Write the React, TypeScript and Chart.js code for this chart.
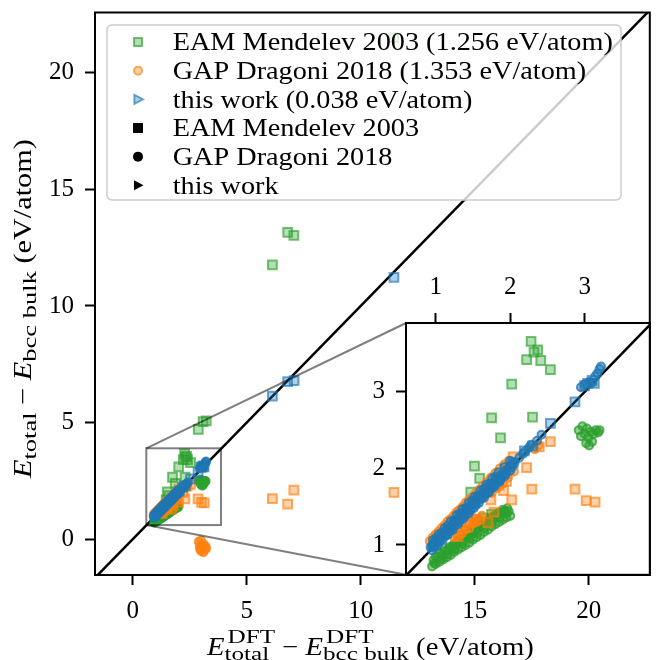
import React, { useEffect, useRef } from "react";
import { Chart, registerables } from "chart.js";

Chart.register(...registerables);

const FONT = "'Liberation Serif', 'Times New Roman', serif";

// ---- axis ranges and ticks ----
const mainXTicks = [0, 5, 10, 15, 20];
const mainYTicks = [0, 5, 10, 15, 20];
const insetXTicks = [1, 2, 3];
const insetYTicks = [1, 2, 3];
const mainXRange = [-1.65, 22.68];
const mainYRange = [-1.53, 22.58];
const insetXRange = [0.6, 3.875];
const insetYRange = [0.61, 3.9];
const diagonal = [[-5, -5], [30, 30]];

// ---- legend ----
const legendLabels = [
  "EAM Mendelev 2003 (1.256 eV/atom)",
  "GAP Dragoni 2018 (1.353 eV/atom)",
  "this work (0.038 eV/atom)",
  "EAM Mendelev 2003",
  "GAP Dragoni 2018",
  "this work",
];

// ---- data: [DFT energy, model energy] in eV/atom ----
const eamSquares = [
  [2.28, 3.66], [2.32, 3.52], [2.37, 3.55], [2.22, 3.42], [2.41, 3.41], [2.54, 3.29],
  [2.02, 3.10], [1.75, 2.66], [2.30, 2.67], [1.87, 2.40], [1.52, 2.03], [1.59, 1.87],
  [1.47, 1.69], [1.55, 1.30], [1.65, 1.35], [1.40, 1.20], [1.75, 1.40], [1.30, 1.05],
  [1.20, 0.95], [2.88, 4.71], [3.09, 5.04], [3.23, 5.08], [6.13, 11.76], [6.80, 13.16],
  [7.07, 13.03], [11.45, 21.5],
];
const eamCircles = [
  [0.95, 0.72], [1.00, 0.75], [1.05, 0.78], [1.10, 0.81], [1.15, 0.84], [1.20, 0.87],
  [1.25, 0.91], [1.30, 0.94], [1.35, 0.97], [1.40, 1.00], [1.45, 1.03], [1.50, 1.07],
  [1.55, 1.10], [1.60, 1.13], [1.65, 1.17], [1.70, 1.20], [1.75, 1.24], [1.80, 1.27],
  [1.85, 1.30], [1.90, 1.33], [1.95, 1.36], [2.00, 1.38],
  [0.97, 0.80], [1.03, 0.84], [1.08, 0.87], [1.13, 0.91], [1.18, 0.94], [1.23, 0.98],
  [1.28, 1.01], [1.33, 1.05], [1.38, 1.08], [1.43, 1.12], [1.48, 1.15], [1.53, 1.19],
  [1.58, 1.22], [1.63, 1.26], [1.68, 1.29], [1.73, 1.33], [1.78, 1.36], [1.83, 1.40],
  [1.88, 1.42], [1.93, 1.45], [1.98, 1.44],
  [1.00, 0.85], [1.06, 0.89], [1.12, 0.93], [1.18, 0.97], [1.24, 1.01], [1.30, 1.05],
  [1.36, 1.09], [1.42, 1.13], [1.48, 1.18], [1.54, 1.22], [1.60, 1.26], [1.66, 1.30],
  [1.72, 1.34], [1.78, 1.38], [1.84, 1.42], [1.90, 1.46], [1.96, 1.48],
  [0.98, 0.76], [1.07, 0.82], [1.16, 0.88], [1.26, 0.95], [1.36, 1.02], [1.46, 1.09],
  [1.56, 1.16], [1.66, 1.23], [1.76, 1.30], [1.86, 1.36], [1.94, 1.41],
  [2.92, 2.50], [2.97, 2.55], [3.00, 2.45], [3.03, 2.52], [3.05, 2.40], [3.08, 2.48],
  [3.10, 2.35], [3.12, 2.45], [3.15, 2.50], [3.18, 2.47], [2.95, 2.42], [3.02, 2.33],
  [3.20, 2.50], [3.06, 2.30],
];
const gapSquares = [
  [2.54, 2.35], [2.39, 2.28], [2.04, 2.15], [2.22, 2.01], [2.29, 1.73], [2.87, 1.73],
  [3.02, 1.58], [3.14, 1.56], [2.02, 1.59], [1.91, 1.71], [1.74, 1.59], [1.78, 1.43],
  [1.70, 1.29], [1.52, 1.33], [1.46, 1.30], [1.30, 1.11], [1.85, 1.78], [1.95, 1.83],
  [6.13, 1.74], [6.80, 1.51], [7.07, 2.11], [11.46, 2.01],
];
const gapCircles = [
  [0.92, 1.05], [0.96, 1.10], [1.00, 1.14], [1.04, 1.18], [1.08, 1.22], [1.12, 1.26],
  [1.16, 1.31], [1.20, 1.34], [1.24, 1.38], [1.28, 1.43], [1.32, 1.46], [1.36, 1.50],
  [1.40, 1.55], [1.44, 1.58], [1.48, 1.62], [1.53, 1.67], [1.58, 1.72], [1.63, 1.77],
  [1.68, 1.82], [1.74, 1.88], [1.80, 1.94], [1.86, 2.00], [1.92, 2.05], [1.98, 2.10],
  [1.30, 1.12], [1.35, 1.15], [1.40, 1.20], [1.45, 1.22], [1.50, 1.28], [1.55, 1.30],
  [1.60, 1.33], [1.42, 1.28], [1.52, 1.35], [1.62, 1.38], [1.35, 1.22], [1.25, 1.10],
  [1.75, 1.68], [1.82, 1.74], [1.90, 1.80], [1.97, 1.88], [2.05, 1.96], [2.33, 2.25],
  [2.38, 2.30],
  [2.90, -0.10], [2.95, -0.25], [3.00, -0.05], [3.05, -0.35], [3.10, -0.20], [3.15, -0.45],
  [3.20, -0.30], [3.00, -0.50], [3.10, -0.55], [3.22, -0.40], [2.95, -0.40],
];
const workSquares = [
  [2.54, 2.59], [2.87, 2.87], [3.04, 3.11], [3.13, 3.11], [2.30, 2.29], [2.19, 2.23],
  [2.04, 2.07], [3.00, 3.08], [3.10, 3.15], [6.13, 6.14], [6.80, 6.76], [7.08, 6.80],
  [11.46, 11.23],
];
const workCircles = [
  [0.93, 0.97], [0.95, 0.99], [0.97, 1.02], [0.99, 1.03], [1.01, 1.05], [1.03, 1.08],
  [1.05, 1.09], [1.07, 1.12], [1.09, 1.13], [1.11, 1.15], [1.13, 1.18], [1.15, 1.19],
  [1.17, 1.22], [1.19, 1.23], [1.21, 1.25], [1.23, 1.28], [1.25, 1.29], [1.27, 1.32],
  [1.29, 1.33], [1.31, 1.35], [1.33, 1.38], [1.35, 1.39], [1.37, 1.42], [1.39, 1.43],
  [1.41, 1.45], [1.43, 1.48], [1.45, 1.49], [1.47, 1.52], [1.49, 1.53], [1.51, 1.55],
  [1.53, 1.58], [1.55, 1.59], [1.57, 1.62], [1.59, 1.63], [1.61, 1.65], [1.63, 1.68],
  [1.65, 1.69], [1.67, 1.72], [1.69, 1.73], [1.71, 1.75], [1.73, 1.78], [1.75, 1.79],
  [1.77, 1.81], [1.79, 1.83], [1.81, 1.85], [1.84, 1.88], [1.87, 1.90], [1.90, 1.93],
  [1.93, 1.96], [1.96, 1.99], [1.99, 2.02], [2.02, 2.05],
  [0.97, 0.97], [1.04, 1.03], [1.12, 1.11], [1.19, 1.18], [1.26, 1.25], [1.33, 1.33],
  [1.40, 1.39], [1.47, 1.46], [1.54, 1.54], [1.61, 1.60], [1.68, 1.67], [1.75, 1.74],
  [1.82, 1.81], [1.89, 1.88],
  [1.00, 1.09], [1.08, 1.16], [1.16, 1.25], [1.24, 1.32], [1.32, 1.41], [1.40, 1.48],
  [1.48, 1.57], [1.56, 1.64], [1.64, 1.73], [1.72, 1.80], [1.80, 1.89],
  [0.95, 0.93], [1.02, 0.99], [1.09, 1.06], [1.16, 1.13], [1.23, 1.20], [1.30, 1.27],
  [1.37, 1.34], [1.44, 1.41], [1.51, 1.48], [1.58, 1.55], [1.65, 1.62], [1.72, 1.69],
  [1.79, 1.76], [1.86, 1.83], [1.93, 1.90], [2.00, 1.97],
  [0.96, 1.06], [1.04, 1.14], [1.12, 1.22], [1.20, 1.31], [1.28, 1.39], [1.36, 1.47],
  [1.44, 1.55], [1.52, 1.63], [1.60, 1.71], [1.68, 1.79], [1.76, 1.87], [1.84, 1.95],
  [1.92, 2.02], [2.00, 2.10],
  [0.99, 0.98], [1.06, 1.05], [1.14, 1.13], [1.22, 1.22], [1.30, 1.30], [1.38, 1.37],
  [1.46, 1.45], [1.54, 1.52], [1.62, 1.61], [1.70, 1.69], [1.78, 1.77], [1.86, 1.85],
  [1.94, 1.93], [2.02, 2.01],
  [2.06, 2.08], [2.12, 2.14], [2.17, 2.19], [2.20, 2.22], [2.25, 2.27], [2.28, 2.31],
  [2.36, 2.36], [2.42, 2.44], [2.95, 3.06], [3.00, 3.10], [3.06, 3.13], [3.10, 3.12],
  [3.14, 3.20], [3.17, 3.24], [3.20, 3.30], [3.22, 3.33],
];

// ---- colours ----
const GREEN = [44, 160, 44];
const ORANGE = [255, 127, 14];
const BLUE = [31, 119, 180];
const rgba = (c: number[], a: number) => `rgba(${c[0]},${c[1]},${c[2]},${a})`;

// ---- layout (page pixels) ----
const PAGE_W = 658;
const PAGE_H = 660;
const MAIN_PAD = { left: 0, top: 12.5, right: 1, bottom: 0 };
const MAIN_Y_AXIS_W = 95;
const MAIN_X_AXIS_H = 85;
const INSET_CANVAS = { left: 340, top: 260, width: 318, height: 323 };
const INSET_PAD = { left: 0, top: 0, right: 1, bottom: 1 };
const INSET_Y_AXIS_W = 66;
const INSET_X_AXIS_H = 63;

function makeSets() {
  const mk = (pts: number[][], c: number[], style: string, order: number) => ({
    data: pts.map(([x, y]) => ({ x, y })),
    pointStyle: style,
    pointRadius: style === "rect" ? 6.2 : 4,
    pointBackgroundColor: rgba(c, style === "rect" ? 0.35 : 0.5),
    pointBorderColor: rgba(c, style === "rect" ? 0.65 : 0.75),
    pointBorderWidth: 2,
    showLine: false,
    order,
  });
  return [
    {
      data: diagonal.map(([x, y]) => ({ x, y })),
      showLine: true,
      borderColor: "#000",
      borderWidth: 2.5,
      pointRadius: 0,
      order: 10,
    },
    mk(eamCircles, GREEN, "circle", 7),
    mk(eamSquares, GREEN, "rect", 6),
    mk(gapCircles, ORANGE, "circle", 5),
    mk(gapSquares, ORANGE, "rect", 4),
    mk(workCircles, BLUE, "circle", 3),
    mk(workSquares, BLUE, "rect", 2),
  ];
}

const axisStyle = (ticks: number[], range: number[], position: string, fit: (s: any) => void) => ({
  type: "linear",
  position,
  min: range[0],
  max: range[1],
  afterBuildTicks: (s: any) => {
    s.ticks = ticks.map((v) => ({ value: v }));
  },
  afterFit: (s: any) => {
    fit(s);
    s.paddingTop = 0;
    s.paddingBottom = 0;
    s.paddingLeft = 0;
    s.paddingRight = 0;
  },
  grid: {
    display: true,
    drawOnChartArea: false,
    drawTicks: true,
    tickLength: 10,
    tickWidth: 2,
    tickColor: "#000",
  },
  border: { display: true, color: "#000", width: 2 },
  ticks: {
    font: { family: FONT, size: 25 },
    color: "#000",
    padding: 11,
    maxRotation: 0,
    autoSkip: false,
  },
});

type Seg = { t?: string; it?: boolean; sup?: string; sub?: string };

function drawRich(
  ctx: CanvasRenderingContext2D,
  x: number,
  y: number,
  angle: number,
  segs: Seg[],
  base: number,
  stretch: number
) {
  const big = 1.17 * stretch;
  const small = 1.37 * stretch;
  const ss = base * 0.75;
  ctx.save();
  ctx.translate(x, y);
  ctx.rotate(angle);
  ctx.fillStyle = "#000";
  ctx.textBaseline = "alphabetic";
  ctx.textAlign = "left";
  let cx = 0;
  for (const s of segs) {
    if (s.t !== undefined) {
      ctx.font = `${s.it ? "italic " : ""}${base}px ${FONT}`;
      ctx.save();
      ctx.translate(cx, 0);
      ctx.scale(big, 1);
      ctx.fillText(s.t, 0, 0);
      ctx.restore();
      cx += ctx.measureText(s.t).width * big + (s.it ? 2 : 0);
    } else {
      ctx.font = `${ss}px ${FONT}`;
      let w = 0;
      if (s.sup) {
        ctx.save();
        ctx.translate(cx + 1, -base * 0.48);
        ctx.scale(small, 1);
        ctx.fillText(s.sup, 0, 0);
        ctx.restore();
        w = Math.max(w, ctx.measureText(s.sup).width * small + 1);
      }
      if (s.sub) {
        ctx.save();
        ctx.translate(cx - 2, base * 0.2);
        ctx.scale(small, 1);
        ctx.fillText(s.sub, 0, 0);
        ctx.restore();
        w = Math.max(w, ctx.measureText(s.sub).width * small - 2);
      }
      cx += w;
    }
  }
  ctx.restore();
}

const xTitle: Seg[] = [
  { t: "E", it: true },
  { sup: "DFT", sub: "total" },
  { t: " \u2212 " },
  { t: "E", it: true },
  { sup: "DFT", sub: "bcc bulk" },
  { t: " (eV/atom)" },
];
const yTitle: Seg[] = [
  { t: "E", it: true },
  { sub: "total" },
  { t: " \u2212 " },
  { t: "E", it: true },
  { sub: "bcc bulk" },
  { t: " (eV/atom)" },
];

function drawMarker(ctx: CanvasRenderingContext2D, shape: string, x: number, y: number, r: number) {
  ctx.beginPath();
  if (shape === "rect") {
    ctx.rect(x - r, y - r, 2 * r, 2 * r);
  } else if (shape === "circle") {
    ctx.arc(x, y, r, 0, Math.PI * 2);
  } else {
    ctx.moveTo(x + r * 1.1, y);
    ctx.lineTo(x - r * 0.8, y - r);
    ctx.lineTo(x - r * 0.8, y + r);
    ctx.closePath();
  }
}

function makeMainPlugin(insetBox: { l: number; t: number; b: number }) {
  return {
    id: "mainDecor",
    afterDatasetsDraw(chart: any) {
      const ctx = chart.ctx as CanvasRenderingContext2D;
      const a = chart.chartArea;
      const xs = chart.scales.x;
      const ys = chart.scales.y;
      const rl = xs.getPixelForValue(insetXRange[0]);
      const rr = xs.getPixelForValue(insetXRange[1]);
      const rt = ys.getPixelForValue(insetYRange[1]);
      const rb = ys.getPixelForValue(insetYRange[0]);
      ctx.save();
      ctx.strokeStyle = "rgba(0,0,0,0.5)";
      ctx.lineWidth = 2;
      ctx.strokeRect(rl, rt, rr - rl, rb - rt);
      ctx.beginPath();
      ctx.moveTo(rl, rt);
      ctx.lineTo(insetBox.l, insetBox.t);
      ctx.moveTo(rl, rb);
      ctx.lineTo(insetBox.l, insetBox.b);
      ctx.stroke();
      ctx.strokeStyle = "#000";
      ctx.lineWidth = 2;
      ctx.strokeRect(a.left, a.top, a.right - a.left, a.bottom - a.top);
      ctx.restore();
    },
    afterDraw(chart: any) {
      const ctx = chart.ctx as CanvasRenderingContext2D;
      ctx.save();
      ctx.beginPath();
      ctx.roundRect(107, 25, 514, 175, 5);
      ctx.fillStyle = "rgba(255,255,255,0.8)";
      ctx.fill();
      ctx.strokeStyle = "#cccccc";
      ctx.lineWidth = 1.5;
      ctx.stroke();
      const shapes = ["rect", "circle", "tri", "rect", "circle", "tri"];
      const cols = [GREEN, ORANGE, BLUE];
      legendLabels.forEach((lab, i) => {
        const cy = 42 + i * 28.66;
        const mx = 138;
        if (i < 3) {
          drawMarker(ctx, shapes[i], mx, cy, i === 2 ? 4.5 : 4);
          ctx.fillStyle = rgba(cols[i], 0.35);
          ctx.fill();
          ctx.strokeStyle = rgba(cols[i], 0.65);
          ctx.lineWidth = 2;
          ctx.stroke();
        } else {
          drawMarker(ctx, shapes[i], mx, cy, 5);
          ctx.fillStyle = "#000";
          ctx.fill();
        }
        ctx.fillStyle = "#000";
        ctx.font = `25px ${FONT}`;
        ctx.textBaseline = "alphabetic";
        ctx.textAlign = "left";
        ctx.save();
        ctx.translate(172.7, cy + 8.3);
        ctx.scale(1.13, 1);
        ctx.fillText(lab, 0, 0);
        ctx.restore();
      });
      ctx.restore();
      drawRich(ctx, 207, 655, 0, xTitle, 24.5, 1);
      drawRich(ctx, 31, 478, -Math.PI / 2, yTitle, 24.5, 1.055);
    },
  };
}

const insetPlugin = {
  id: "insetDecor",
  beforeDraw(chart: any) {
    const ctx = chart.ctx as CanvasRenderingContext2D;
    const a = chart.chartArea;
    ctx.save();
    ctx.fillStyle = "#fff";
    ctx.fillRect(a.left, a.top, a.right - a.left, a.bottom - a.top);
    ctx.restore();
  },
  afterDatasetsDraw(chart: any) {
    const ctx = chart.ctx as CanvasRenderingContext2D;
    const a = chart.chartArea;
    ctx.save();
    ctx.strokeStyle = "#000";
    ctx.lineWidth = 2;
    ctx.strokeRect(a.left, a.top, a.right - a.left, a.bottom - a.top);
    ctx.restore();
  },
};

export default function App() {
  const mainRef = useRef<HTMLCanvasElement | null>(null);
  const insetRef = useRef<HTMLCanvasElement | null>(null);

  useEffect(() => {
    const inset = new Chart(insetRef.current as HTMLCanvasElement, {
      type: "scatter",
      data: { datasets: makeSets() as any },
      options: {
        responsive: false,
        animation: false,
        events: [],
        layout: { padding: INSET_PAD },
        plugins: { legend: { display: false }, tooltip: { enabled: false } },
        scales: {
          x: axisStyle(insetXTicks, insetXRange, "top", (s: any) => {
            s.height = INSET_X_AXIS_H;
          }) as any,
          y: axisStyle(insetYTicks, insetYRange, "left", (s: any) => {
            s.width = INSET_Y_AXIS_W;
          }) as any,
        },
      },
      plugins: [insetPlugin],
    });
    const ia = inset.chartArea;
    const insetBox = {
      l: INSET_CANVAS.left + ia.left,
      t: INSET_CANVAS.top + ia.top,
      b: INSET_CANVAS.top + ia.bottom,
    };
    const main = new Chart(mainRef.current as HTMLCanvasElement, {
      type: "scatter",
      data: { datasets: makeSets() as any },
      options: {
        responsive: false,
        animation: false,
        events: [],
        layout: { padding: MAIN_PAD },
        plugins: { legend: { display: false }, tooltip: { enabled: false } },
        scales: {
          x: axisStyle(mainXTicks, mainXRange, "bottom", (s: any) => {
            s.height = MAIN_X_AXIS_H;
          }) as any,
          y: axisStyle(mainYTicks, mainYRange, "left", (s: any) => {
            s.width = MAIN_Y_AXIS_W;
          }) as any,
        },
      },
      plugins: [makeMainPlugin(insetBox)],
    });
    return () => {
      main.destroy();
      inset.destroy();
    };
  }, []);

  return (
    <div style={{ position: "fixed", left: 0, top: 0, width: PAGE_W, height: PAGE_H, background: "#fff" }}>
      <canvas
        ref={mainRef}
        width={PAGE_W}
        height={PAGE_H}
        style={{ position: "absolute", left: 0, top: 0, width: PAGE_W, height: PAGE_H }}
      />
      <canvas
        ref={insetRef}
        width={INSET_CANVAS.width}
        height={INSET_CANVAS.height}
        style={{
          position: "absolute",
          left: INSET_CANVAS.left,
          top: INSET_CANVAS.top,
          width: INSET_CANVAS.width,
          height: INSET_CANVAS.height,
        }}
      />
    </div>
  );
}
